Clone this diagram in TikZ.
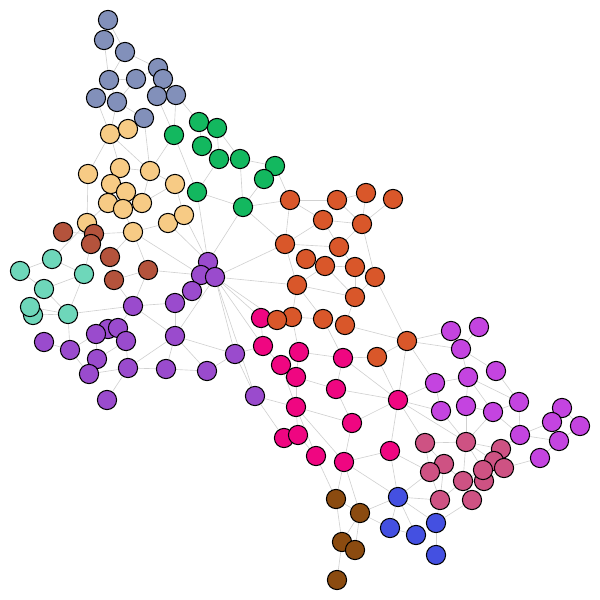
\documentclass[tikz,border=0pt]{standalone}
\usetikzlibrary{backgrounds}
\definecolor{cS}{HTML}{8290BA}
\definecolor{cG}{HTML}{13B85F}
\definecolor{cO}{HTML}{F7CB85}
\definecolor{cB}{HTML}{B4533C}
\definecolor{cT}{HTML}{6ED7BA}
\definecolor{cP}{HTML}{9A4BCD}
\definecolor{cR}{HTML}{D9572A}
\definecolor{cM}{HTML}{EF0681}
\definecolor{cV}{HTML}{C444E0}
\definecolor{cQ}{HTML}{CE5283}
\definecolor{cU}{HTML}{4450E1}
\definecolor{cW}{HTML}{8B4B10}
\tikzset{
  nd/.style={circle, draw=black, line width=0.75pt, minimum size=0.48cm, inner sep=0pt},
  edge/.style={draw=black!18, line width=0.45pt}
}
\begin{document}
\begin{tikzpicture}[x=0.025cm, y=-0.025cm]
\useasboundingbox (0,0) rectangle (600,600);
% slate
\foreach \n/\x/\y in {s1/108/20,s2/104/40,s3/125/52,s4/158/68,s5/163/79,s6/109/80,s7/136/79,s8/96/98,s9/117/102,s10/157/96,s11/176/95,s12/144/118}
  \node[nd, fill=cS] (\n) at (\x,\y) {};
% green
\foreach \n/\x/\y in {g1/199/122,g2/217/128,g3/174/135,g4/202/146,g5/219/159,g6/240/159,g7/275/166,g8/264/179,g9/197/192,g10/243/207}
  \node[nd, fill=cG] (\n) at (\x,\y) {};
% light orange
\foreach \n/\x/\y in {o1/110/134,o2/128/129,o3/88/174,o4/120/168,o5/150/171,o6/175/184,o7/111/184,o8/126/192,o9/108/203,o10/123/209,o11/142/203,o12/87/223,o13/133/232,o14/168/223,o15/184/215}
  \node[nd, fill=cO] (\n) at (\x,\y) {};
% brown-red
\foreach \n/\x/\y in {b1/63/232,b2/94/234,b3/91/244,b4/110/257,b5/148/270,b6/114/280}
  \node[nd, fill=cB] (\n) at (\x,\y) {};
% teal
\foreach \n/\x/\y in {t1/20/271,t2/52/259,t3/84/274,t4/44/289,t6/33/315,t5/30/307,t7/68/314}
  \node[nd, fill=cT] (\n) at (\x,\y) {};
% purple
\foreach \n/\x/\y in {p1/208/262,p2/201/275,p3/215/277,p4/192/291,p5/133/306,p6/175/303,p7/44/342,p8/70/350,p10/108/329,p9/96/334,p11/118/328,p12/126/341,p13/97/359,p14/89/374,p15/128/368,p16/166/369,p17/175/336,p18/207/371,p19/107/400,p20/235/354,p21/255/396}
  \node[nd, fill=cP] (\n) at (\x,\y) {};
% orange
\foreach \n/\x/\y in {r1/290/200,r2/337/200,r3/366/193,r4/393/199,r5/323/220,r6/362/224,r7/285/244,r8/339/247,r9/306/259,r10/325/266,r11/355/267,r12/375/277,r13/297/285,r14/355/297,r15/292/317,r17/323/319,r18/345/325,r19/377/357,r20/407/341}
  \node[nd, fill=cR] (\n) at (\x,\y) {};
% magenta
\foreach \n/\x/\y in {m1/261/318,m2/263/346,m3/299/352,m4/281/365,m5/296/377,m6/343/358,m7/336/389,m8/398/400,m9/296/407,m10/352/423,m11/284/438,m12/298/435,m13/316/456,m14/344/462,m15/390/451}
  \node[nd, fill=cM] (\n) at (\x,\y) {};
\node[nd, fill=cR] (r16) at (277,320) {};
% brown
\foreach \n/\x/\y in {w1/336/499,w2/360/513,w3/342/542,w4/355/550,w5/337/580}
  \node[nd, fill=cW] (\n) at (\x,\y) {};
% blue
\foreach \n/\x/\y in {u1/398/497,u2/390/528,u3/436/523,u4/416/535,u5/436/555}
  \node[nd, fill=cU] (\n) at (\x,\y) {};
% violet
\foreach \n/\x/\y in {v1/451/331,v2/479/327,v3/461/349,v4/496/371,v5/435/383,v6/468/377,v7/519/402,v8/441/411,v9/466/406,v10/493/412,v11/562/408,v12/552/422,v13/580/426,v14/520/435,v15/559/441,v16/540/458}
  \node[nd, fill=cV] (\n) at (\x,\y) {};
% rose
\foreach \n/\x/\y in {q1/425/443,q2/466/442,q3/501/449,q4/444/464,q5/430/472,q6/494/461,q7/504/468,q9/463/481,q10/484/481,q8/483/470,q11/440/500,q12/472/500}
  \node[nd, fill=cQ] (\n) at (\x,\y) {};
\begin{pgfonlayer}{background}
\foreach \a/\b in {s1/s2,s1/s3,s2/s6,s3/s6,s3/s4,s6/s7,s7/s4,s7/s9,s6/s8,s6/s9,s9/s12,s8/s9,s4/s5,s5/s10,s10/s11,s5/s11,s11/g1,s10/g3,s11/g3,s8/o1,s9/o1,s12/o5,s12/o2,
 g1/g2,g1/g4,g2/g5,g2/g6,g4/g5,g5/g6,g6/g7,g6/g10,g5/g9,g7/g8,g8/g10,g7/r1,g9/g10,g3/g9,g3/o5,g10/r7,g10/p1,g9/p1,r1/g10,
 o1/o2,o1/o5,o1/o4,o3/o1,o4/o5,o5/o6,o3/o12,o4/o7,o7/o8,o8/o9,o8/o10,o8/o11,o9/o10,o10/o11,o11/o5,o6/o15,o14/o15,o13/o14,o12/b2,o13/b2,o13/b4,o13/b5,o13/o10,o13/p2,o14/p1,o15/p1,o6/o11,o12/o9,
 b1/b2,b2/b3,b3/t3,b4/b6,b5/b6,b5/p5,b6/p5,b5/p2,b3/b4,
 t1/t2,t1/t4,t2/t3,t2/o12,t3/t4,t4/t7,t4/t5,t5/t6,t5/t7,t6/t7,t7/p5,t7/p8,t3/t7,
 p1/p2,p1/p3,p2/p3,p2/p4,p4/p6,p5/p6,p5/p11,p5/p17,p6/p17,p17/p15,p17/p16,p15/p16,p15/p12,p13/p14,p14/p15,p15/p19,p8/p14,p9/p8,p9/p10,p10/p11,p11/p12,p12/p13,p9/p13,p17/p18,p16/p18,p17/p20,p18/p20,p20/p21,p7/p8,p3/p17,p3/p20,p3/p21,p3/m2,p3/r7,p3/r13,p3/r16,p3/m1,p20/m2,p21/m9,p21/m11,
 r1/r2,r1/r5,r1/r7,r2/r6,r3/r6,r4/r6,r5/r6,r5/r8,r6/r8,r6/r12,r7/r5,r7/r8,r8/r11,r9/r10,r10/r11,r11/r12,r7/r13,r10/r13,r13/r15,r13/r14,r10/r14,r11/r14,r12/r14,r12/r20,r15/r16,r15/r17,r17/r18,r14/r18,r18/r20,r13/r17,r19/r20,r19/m8,r19/m6,r17/m6,r15/m3,r16/m1,r2/r3,
 m1/m2,m2/m4,m3/m6,m6/m7,m5/m7,m4/m5,m3/m5,m9/m10,m10/m8,m9/m13,m9/m14,m9/m12,m11/m12,m10/m14,m14/m15,m15/m8,m12/m13,m7/m10,m7/m8,m4/m9,m5/m9,m6/m8,
 m14/w1,m13/w1,m14/w2,w1/w2,w1/w3,w2/w4,w2/w3,w3/w4,w3/w5,w2/u2,w2/u1,
 m14/u1,m15/u1,u1/q11,q11/u3,q12/u3,u1/u3,u1/u4,u3/u5,u2/u4,q5/u1,u1/u2,
 r20/v1,r20/v3,r20/v5,r20/m8,v1/v3,v2/v3,v3/v4,v3/v6,v5/v6,v6/v9,v6/v10,v4/v7,v6/v7,v9/v10,v5/v8,v8/m8,v5/m8,v7/v10,v7/v14,v10/v14,v14/v12,v14/v15,v11/v12,v12/v15,v11/v13,v13/v15,v15/v16,v14/q3,q7/v16,
 m8/q1,m8/q2,v9/q2,v10/q2,v8/q2,q1/q2,q2/q3,q1/q4,q1/q5,q4/q5,q2/q9,q2/q6,q3/q6,q6/q7,q6/q8,q8/q9,q8/q10,q9/q10,q9/q11,q9/q12,q10/q12,q4/q9,m15/q5,q5/q11,q7/q10,q2/q8,q4/q11}
  \draw[edge] (\a) -- (\b);
\end{pgfonlayer}
\end{tikzpicture}
\end{document}
